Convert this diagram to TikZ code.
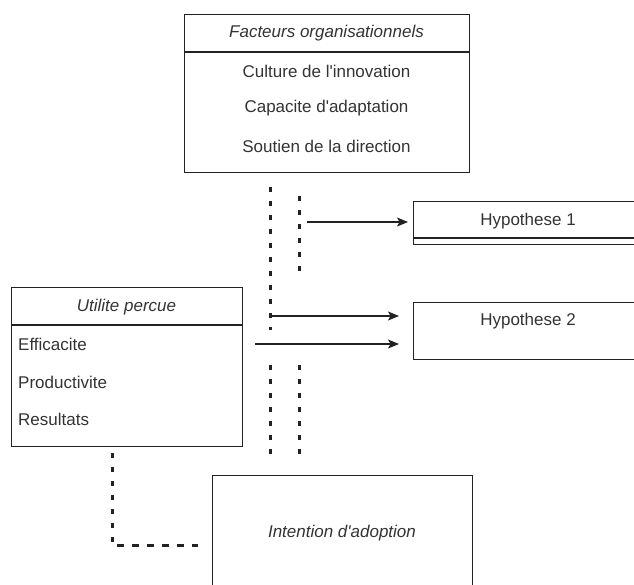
\documentclass[tikz,border=0pt]{standalone}
\usepackage{fontspec}
\setmainfont{Liberation Sans}
\usetikzlibrary{arrows.meta,calc}
\definecolor{txt}{HTML}{333333}
\definecolor{ln}{HTML}{222222}
\tikzset{
  box/.style={draw=ln, line width=1.3pt, rectangle, anchor=north west, inner sep=0pt},
  lbl/.style={text=txt, font=\fontsize{17}{20}\selectfont, inner sep=0pt},
  ilbl/.style={lbl, font=\fontsize{17}{20}\selectfont\itshape},
  dashv/.style={draw=ln, line width=3pt, dash pattern=on 5pt off 9pt},
  dashh/.style={draw=ln, line width=3pt, dash pattern=on 7pt off 8pt},
  arr/.style={draw=ln, line width=1.2pt, -{Stealth[length=11pt,width=9pt,inset=2.5pt]}},
}
\begin{document}
\begin{tikzpicture}[x=1pt,y=-1pt]
\useasboundingbox (0,0) rectangle (634,584);
\clip (0,0) rectangle (634,584);
% boxes
\node[box, minimum width=285pt, minimum height=158pt] (fo) at (184,14) {};
\draw[draw=ln, line width=1.3pt] ($(fo.north west)+(0,38)$) -- ($(fo.north east)+(0,38)$);
\node[ilbl] (fot) at (326.5,33) {Facteurs organisationnels};
\node[lbl] (fo1) at (326.5,71) {Culture de l\textquotesingle innovation};
\node[lbl] (fo2) at (326.5,108) {Capacite d\textquotesingle adaptation};
\node[lbl] (fo3) at (326.5,146) {Soutien de la direction};

\node[box, minimum width=231pt, minimum height=159pt] (up) at (11,287) {};
\draw[draw=ln, line width=1.3pt] ($(up.north west)+(0,38)$) -- ($(up.north east)+(0,38)$);
\node[ilbl] (upt) at (126.5,307) {Utilite percue};
\node[lbl, anchor=west] (up1) at (18,344) {Efficacite};
\node[lbl, anchor=west] (up2) at (18,382) {Productivite};
\node[lbl, anchor=west] (up3) at (18,419) {Resultats};

\node[box, minimum width=240pt, minimum height=43pt] (h1) at (413,201) {};
\draw[draw=ln, line width=1.3pt] ($(h1.north west)+(0,37)$) -- ($(h1.north east)+(0,37)$);
\node[lbl] (h1t) at (528,221) {Hypothese 1};

\node[box, minimum width=240pt, minimum height=57pt] (h2) at (413,302) {};
\node[lbl] (h2t) at (528,321) {Hypothese 2};

\node[box, minimum width=260pt, minimum height=140pt] (ia) at (212,475) {};
\node[ilbl] (iat) at (342,533) {Intention d\textquotesingle adoption};

% dashed lines
\coordinate (a1) at (270,187); \coordinate (a2) at (270,330);
\coordinate (b1) at (299,196); \coordinate (b2) at (299,273);
\coordinate (c1) at (270,365); \coordinate (c2) at (270,460);
\coordinate (d1) at (299,365); \coordinate (d2) at (299,460);
\coordinate (e1) at (112,453); \coordinate (e2) at (112,545); \coordinate (e3) at (198,545);
\draw[dashv] (a1) -- (a2);
\draw[dashv] (b1) -- (b2);
\draw[dashv] (c1) -- (c2);
\draw[dashv] (d1) -- (d2);
\draw[dashv] (e1) -- (e2);
\draw[dashh] ($(e2)+(5,0)$) -- (e3);

% arrows
\coordinate (s1) at (307,222);
\coordinate (s2) at (271,316);
\coordinate (s3) at (255,344);
\draw[arr] (s1) -- ($(h1.west |- s1)+(-5,0)$);
\draw[arr] (s2) -- ($(h2.west |- s2)+(-14,0)$);
\draw[arr] (s3) -- ($(h2.west |- s3)+(-14,0)$);
\end{tikzpicture}
\end{document}
